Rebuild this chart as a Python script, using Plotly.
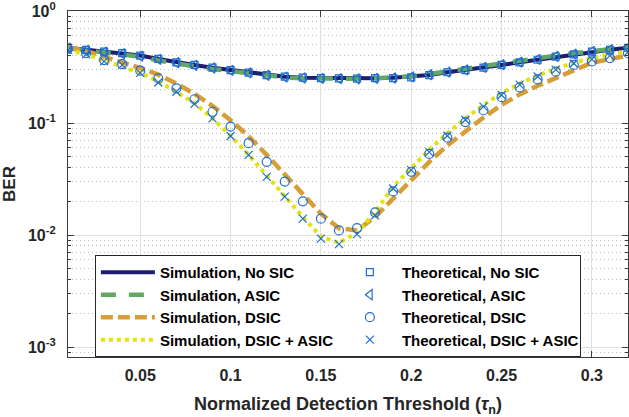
import plotly.graph_objects as go

tau = [round(0.01 * i, 2) for i in range(1, 33)]

sim_nosic = [0.47, 0.45, 0.433, 0.42, 0.40, 0.373, 0.348, 0.33, 0.312, 0.297, 0.282, 0.268,
             0.259, 0.254, 0.252, 0.250, 0.249, 0.251, 0.253, 0.258, 0.268, 0.284, 0.297, 0.312,
             0.33, 0.348, 0.367, 0.391, 0.41, 0.433, 0.45, 0.47]
sim_asic = [0.465, 0.445, 0.425, 0.41, 0.39, 0.362, 0.338, 0.32, 0.303, 0.29, 0.276, 0.263,
            0.255, 0.251, 0.249, 0.248, 0.248, 0.251, 0.255, 0.262, 0.274, 0.29, 0.304, 0.32,
            0.338, 0.357, 0.377, 0.4, 0.42, 0.44, 0.456, 0.475]
sim_dsic = [0.47, 0.44, 0.39, 0.35, 0.31, 0.27, 0.225, 0.182, 0.142, 0.106, 0.076, 0.052,
            0.035, 0.023, 0.0155, 0.0115, 0.011, 0.0145, 0.021, 0.031, 0.045, 0.063, 0.085, 0.112,
            0.145, 0.18, 0.215, 0.255, 0.295, 0.345, 0.37, 0.40]
sim_dsic_asic = [0.45, 0.41, 0.36, 0.32, 0.28, 0.235, 0.19, 0.15, 0.11, 0.077, 0.052, 0.034,
                 0.022, 0.0145, 0.0097, 0.0085, 0.0105, 0.016, 0.027, 0.040, 0.058, 0.081, 0.11, 0.145,
                 0.185, 0.225, 0.265, 0.305, 0.345, 0.38, 0.41, 0.44]

th_nosic = [0.47, 0.45, 0.433, 0.42, 0.40, 0.373, 0.348, 0.33, 0.312, 0.297, 0.282, 0.268,
            0.259, 0.254, 0.252, 0.250, 0.249, 0.252, 0.252, 0.256, 0.268, 0.284, 0.297, 0.312,
            0.33, 0.348, 0.367, 0.391, 0.41, 0.433, 0.45, 0.47]
th_asic = [0.465, 0.445, 0.43, 0.415, 0.395, 0.37, 0.345, 0.327, 0.31, 0.295, 0.28, 0.266,
           0.257, 0.252, 0.25, 0.249, 0.248, 0.25, 0.252, 0.258, 0.27, 0.285, 0.298, 0.314,
           0.332, 0.35, 0.37, 0.393, 0.412, 0.436, 0.452, 0.472]
th_dsic = [0.46, 0.42, 0.365, 0.336, 0.293, 0.25, 0.204, 0.163, 0.126, 0.093, 0.066, 0.045,
           0.030, 0.020, 0.014, 0.011, 0.0115, 0.0159, 0.0245, 0.0367, 0.053, 0.074, 0.102, 0.13,
           0.17, 0.208, 0.245, 0.287, 0.33, 0.355, 0.38, 0.42]
th_dsic_asic = [0.45, 0.41, 0.355, 0.33, 0.28, 0.23, 0.19, 0.148, 0.11, 0.0765, 0.052, 0.033,
                0.022, 0.014, 0.0093, 0.0083, 0.0102, 0.015, 0.026, 0.038, 0.055, 0.077, 0.107, 0.14,
                0.178, 0.22, 0.26, 0.30, 0.34, 0.37, 0.40, 0.43]

x_ticks = [0.05, 0.1, 0.15, 0.2, 0.25, 0.3]
x_ticktext = ["0.05", "0.1", "0.15", "0.2", "0.25", "0.3"]
y_ticks = [1e-3, 1e-2, 1e-1, 1]
y_ticktext = ["10<sup>-3</sup>", "10<sup>-2</sup>", "10<sup>-1</sup>", "10<sup>0</sup>"]
y_minor = [m * 10 ** e for e in (-4, -3, -2, -1) for m in range(2, 10)]

FONT = "Liberation Sans"
MK = "#1f6fd1"

fig = go.Figure()

lines = [
    ("Simulation, No SIC", sim_nosic, "#1e1e6e", 4, "solid", 1),
    ("Simulation, ASIC", sim_asic, "#62a862", 4.5, "15px,13px", 3),
    ("Simulation, DSIC", sim_dsic, "#d89e36", 4.5, "12px,5px", 5),
    ("Simulation, DSIC + ASIC", sim_dsic_asic, "#e2e20c", 4, "4px,4px", 7),
]
for name, y, c, w, d, r in lines:
    fig.add_trace(go.Scatter(x=tau, y=y, mode="lines", name=name, legendrank=r,
                             line=dict(color=c, width=w, dash=d)))

markers = [
    ("Theoretical, No SIC", th_nosic, "square-open", 7, 2),
    ("Theoretical, ASIC", th_asic, "triangle-left-open", 9, 4),
    ("Theoretical, DSIC", th_dsic, "circle-open", 9, 6),
    ("Theoretical, DSIC + ASIC", th_dsic_asic, "x-thin-open", 8, 8),
]
for name, y, s, sz, r in markers:
    fig.add_trace(go.Scatter(x=tau, y=y, mode="markers", name=name, legendrank=r,
                             marker=dict(symbol=s, size=sz, color=MK,
                                         line=dict(color=MK, width=1.2))))

axis_common = dict(
    showline=True, linecolor="#3a3a3a", linewidth=1.2, mirror="ticks",
    ticks="inside", ticklen=6, tickcolor="#3a3a3a",
    showgrid=True, gridcolor="#e0e0e0", gridwidth=1,
    zeroline=False, ticklabeloverflow="allow",
    tickfont=dict(family=FONT, size=16, color="#262626", weight="bold"),
)

fig.update_xaxes(
    range=[0.01, 0.32], tickmode="array", tickvals=x_ticks, ticktext=x_ticktext,
    ticklabelstandoff=4,
    title=dict(text="Normalized Detection Threshold (<i>τ</i><sub>n</sub>)",
               font=dict(family=FONT, size=18, color="#262626", weight="bold"), standoff=16),
    **axis_common,
)
fig.update_yaxes(
    type="log", range=[-3.089, 0.0], tickmode="array", tickvals=y_ticks, ticktext=y_ticktext,
    ticklabelstandoff=8,
    minor=dict(tickmode="array", tickvals=y_minor, ticks="inside", ticklen=3,
               tickcolor="#3a3a3a", showgrid=True, gridcolor="#bdbdbd", griddash="1px,3px", gridwidth=1),
    title=dict(text="BER", font=dict(family=FONT, size=17, color="#262626", weight="bold"), standoff=8),
    **axis_common,
)

fig.update_layout(
    width=629, height=417,
    margin=dict(l=68, r=1, t=11, b=60),
    paper_bgcolor="white", plot_bgcolor="white",
    showlegend=True,
    legend=dict(
        orientation="h", x=0.048, y=0.295, xanchor="left", yanchor="top",
        entrywidth=173, entrywidthmode="pixels", itemwidth=54,
        bgcolor="white", bordercolor="#262626", borderwidth=1,
        font=dict(family=FONT, size=15, color="black", weight="bold"),
        tracegroupgap=0,
    ),
)

fig.write_html("out.html")
